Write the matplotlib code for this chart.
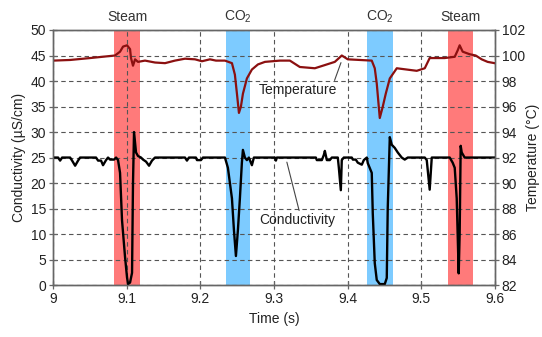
import numpy as np
import matplotlib
matplotlib.use("Agg")
import matplotlib.pyplot as plt

plt.rcParams["font.family"] = ["Liberation Sans", "DejaVu Sans"]
plt.rcParams["mathtext.default"] = "regular"

# temperature trace (s, degC)
temp_t = [9.0000, 9.0231, 9.0502, 9.0841, 9.0909, 9.0950, 9.1004, 9.1045, 9.1058,
          9.1085, 9.1113, 9.1153, 9.1248, 9.1384, 9.1520, 9.1655, 9.1791, 9.1927,
          9.2022, 9.2130, 9.2212, 9.2334, 9.2429, 9.2469, 9.2497, 9.2524, 9.2551,
          9.2578, 9.2632, 9.2700, 9.2782, 9.2877, 9.3080, 9.3216, 9.3351, 9.3555,
          9.3691, 9.3826, 9.3921, 9.4003, 9.4166, 9.4328, 9.4369, 9.4396, 9.4437,
          9.4478, 9.4518, 9.4573, 9.4668, 9.4803, 9.4939, 9.5048, 9.5115, 9.5319,
          9.5455, 9.5495, 9.5522, 9.5563, 9.5658, 9.5740, 9.5821, 9.5902, 9.5997]
temp_v = [99.6, 99.65, 99.8, 100.0, 100.3, 100.7, 100.8, 100.5, 99.8,
          99.2, 99.7, 99.5, 99.6, 99.45, 99.4, 99.6, 99.75, 99.7,
          99.55, 99.7, 99.6, 99.6, 99.4, 98.5, 97.0, 95.5, 96.0,
          97.0, 98.2, 98.9, 99.3, 99.5, 99.6, 99.6, 99.1, 99.0,
          99.25, 99.5, 100.0, 99.7, 99.65, 99.6, 99.0, 97.8, 95.1,
          96.0, 97.0, 98.2, 99.0, 98.9, 98.8, 99.0, 99.8, 99.8,
          99.9, 100.4, 100.8, 100.3, 100.1, 100.0, 99.7, 99.5, 99.4]

# conductivity trace (s, uS/cm)
cond_t = [9.0000, 9.0068, 9.0095, 9.0122, 9.0231, 9.0258, 9.0299, 9.0339, 9.0366,
          9.0583, 9.0611, 9.0651, 9.0678, 9.0719, 9.0746, 9.0773, 9.0828, 9.0855,
          9.0882, 9.0909, 9.0936, 9.0977, 9.1004, 9.1018, 9.1045, 9.1072, 9.1085,
          9.1099, 9.1126, 9.1153, 9.1194, 9.1221, 9.1262, 9.1303, 9.1343, 9.1384,
          9.1791, 9.1818, 9.1845, 9.1940, 9.1954, 9.2008, 9.2035, 9.2334, 9.2374,
          9.2429, 9.2456, 9.2483, 9.2510, 9.2537, 9.2564, 9.2578, 9.2605, 9.2632,
          9.2659, 9.2700, 9.2727, 9.3012, 9.3026, 9.3039, 9.3569, 9.3582, 9.3650,
          9.3677, 9.3691, 9.3718, 9.3758, 9.3786, 9.3867, 9.3881, 9.3908, 9.3921,
          9.3948, 9.4057, 9.4071, 9.4111, 9.4138, 9.4193, 9.4220, 9.4261, 9.4274,
          9.4328, 9.4342, 9.4369, 9.4396, 9.4437, 9.4505, 9.4532, 9.4545, 9.4573,
          9.4600, 9.4640, 9.4681, 9.4735, 9.4776, 9.4817, 9.5048, 9.5075, 9.5115,
          9.5143, 9.5387, 9.5427, 9.5455, 9.5482, 9.5509, 9.5522, 9.5536, 9.5550,
          9.5590, 9.6000]
cond_v = [25, 25, 24.4, 25, 25, 24.4, 23.4, 24.4, 25,
          25, 24.4, 24.4, 23.5, 24.5, 25, 24.6, 24.6, 25,
          24.5, 22, 12.7, 5.5, 1.5, 0.2, 0.5, 2.4, 20,
          30, 26, 25.3, 25, 24.6, 24.2, 23.4, 24.4, 25,
          25, 24.4, 25, 25, 24.5, 24.5, 25, 25, 23,
          17, 10.8, 5.7, 10.8, 17, 24, 26.5, 25, 24.5,
          25, 23.5, 25, 25, 24.4, 25, 25, 24.5, 24.5,
          25.5, 26.3, 24.5, 24.5, 25, 25, 23, 18.6, 24.5,
          25, 25, 24.6, 24.6, 24.0, 23.6, 24.5, 25, 23.9,
          22, 14, 4.3, 1, 0.2, 0.2, 1.4, 15, 29,
          27.5, 26.9, 26, 25, 24.6, 25, 25, 24.5, 18.7,
          25, 25, 24, 23, 17, 2.3, 10, 27.3, 26,
          25, 25]

# shaded injection windows
band_start = [9.083, 9.235, 9.427, 9.536]
band_end = [9.118, 9.268, 9.461, 9.571]
band_label = ["Steam", "CO$_2$", "CO$_2$", "Steam"]
band_color = ["#ff7a7a", "#7dcbff", "#7dcbff", "#ff7a7a"]

fig = plt.figure(figsize=(5.42, 3.37), dpi=100)
ax = fig.add_axes([0.098, 0.154, 0.815, 0.757])
ax2 = ax.twinx()

for s, e, lab, c in zip(band_start, band_end, band_label, band_color):
    ax.axvspan(s, e, color=c, lw=0, zorder=1)
    ax.text((s + e) / 2, 1.05, lab, transform=ax.get_xaxis_transform(),
            ha="center", va="center", fontsize=10, color="#333333")

ax.set_axisbelow("line")
ax.grid(True, color="#555555", ls=(0, (4, 3)), lw=0.8)
ax.plot(cond_t, cond_v, color="black", lw=1.7, zorder=3)
ax2.plot(temp_t, temp_v, color="#8b1010", lw=1.6)

ax.set_xlim(9, 9.6)
ax.set_ylim(0, 50)
ax2.set_ylim(82, 102)
ax.set_xticks(np.arange(9, 9.61, 0.1))
ax.set_xticklabels(["9", "9.1", "9.2", "9.3", "9.4", "9.5", "9.6"])
ax.set_yticks(np.arange(0, 51, 5))
ax2.set_yticks(np.arange(82, 103, 2))

for a in (ax, ax2):
    for sp in a.spines.values():
        sp.set_color("#666666")
        sp.set_linewidth(1.0)
    a.tick_params(direction="inout", length=6, width=0.9, color="#666666",
                  labelsize=10, labelcolor="#222222", pad=2)

ax.set_xlabel("Time (s)", fontsize=10, color="#222222", labelpad=4)
ax.set_ylabel("Conductivity (\u00b5S/cm)", fontsize=10, color="#222222", labelpad=3)
ax2.set_ylabel("Temperature (\u00b0C)", fontsize=10, color="#222222", labelpad=1)

ax.annotate("Temperature", xy=(9.391, 43.6), xytext=(9.333, 38.2),
            ha="center", va="center", fontsize=10, color="#222222",
            arrowprops=dict(arrowstyle="-", color="#444444", lw=0.8,
                            shrinkA=0, shrinkB=0, relpos=(0.95, 1.0)))
ax.annotate("Conductivity", xy=(9.3175, 24.1), xytext=(9.332, 12.7),
            ha="center", va="center", fontsize=10, color="#222222",
            arrowprops=dict(arrowstyle="-", color="#444444", lw=0.8,
                            shrinkA=0, shrinkB=0, relpos=(0.53, 1.0)))

fig.savefig("out.png", dpi=100)
